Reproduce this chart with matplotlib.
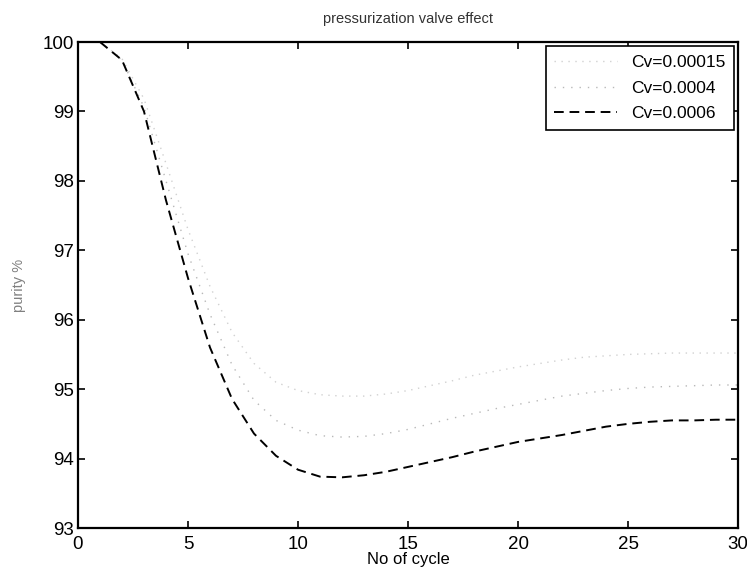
import matplotlib.pyplot as plt

plt.rcParams["font.family"] = ["Liberation Sans", "DejaVu Sans"]

# cycle number
cycles = [1, 2, 3, 4, 5, 6, 7, 8, 9, 10, 11, 12, 13, 14, 15, 16, 17, 18, 19, 20,
          21, 22, 23, 24, 25, 26, 27, 28, 29, 30]

# purity % for each valve coefficient
purity_cv00015 = [100.0, 99.76, 99.18, 98.25, 97.3, 96.48, 95.82, 95.37, 95.1, 94.98,
                  94.92, 94.9, 94.9, 94.93, 94.98, 95.05, 95.12, 95.2, 95.26, 95.32,
                  95.37, 95.42, 95.46, 95.48, 95.5, 95.51, 95.52, 95.52, 95.52, 95.52]
purity_cv0004 = [100.0, 99.74, 99.06, 98.0, 96.95, 96.08, 95.35, 94.84, 94.55, 94.41,
                 94.33, 94.31, 94.32, 94.36, 94.42, 94.5, 94.58, 94.65, 94.72, 94.78,
                 94.84, 94.9, 94.94, 94.98, 95.01, 95.03, 95.04, 95.05, 95.06, 95.06]
purity_cv0006 = [100.0, 99.74, 99.0, 97.72, 96.6, 95.6, 94.86, 94.36, 94.04, 93.84,
                 93.74, 93.73, 93.76, 93.81, 93.88, 93.95, 94.02, 94.1, 94.17, 94.24,
                 94.29, 94.34, 94.4, 94.46, 94.5, 94.53, 94.55, 94.55, 94.56, 94.56]

labels = ["Cv=0.00015", "Cv=0.0004", "Cv=0.0006"]

x_ticks = [0, 5, 10, 15, 20, 25, 30]
y_ticks = [93, 94, 95, 96, 97, 98, 99, 100]

fig = plt.figure(figsize=(7.47, 5.73), dpi=100)
ax = fig.add_axes([0.1044, 0.0785, 0.8836, 0.8482])

ax.plot(cycles, purity_cv00015, color="0.82", linestyle=(0, (1, 4)), linewidth=1.0,
        label=labels[0])
ax.plot(cycles, purity_cv0004, color="0.72", linestyle=(0, (1, 5)), linewidth=1.0,
        label=labels[1])
ax.plot(cycles, purity_cv0006, color="black", linestyle=(0, (5, 3)), linewidth=1.4,
        label=labels[2])

ax.set_xlim(0, 30)
ax.set_ylim(93, 100)
ax.set_xticks(x_ticks)
ax.set_yticks(y_ticks)
ax.tick_params(direction="in", length=5, width=1.2, labelsize=13.5,
               top=True, right=True)
ax.tick_params(axis="x", pad=6)
ax.tick_params(axis="y", pad=3)
for spine in ax.spines.values():
    spine.set_linewidth(1.6)

ax.set_title("pressurization valve effect", fontsize=10.5, color="0.2", pad=14)
ax.set_xlabel("No of cycle", fontsize=12, labelpad=-1)
ax.set_ylabel("purity %", fontsize=10.5, color="0.5", labelpad=12)

leg = ax.legend(loc="upper right", fontsize=12.5, frameon=True, fancybox=False,
                edgecolor="black", framealpha=1, handlelength=3.6,
                borderaxespad=0.25, labelspacing=0.6, borderpad=0.5)
leg.get_frame().set_linewidth(1.2)

fig.savefig("out.png", dpi=100)
